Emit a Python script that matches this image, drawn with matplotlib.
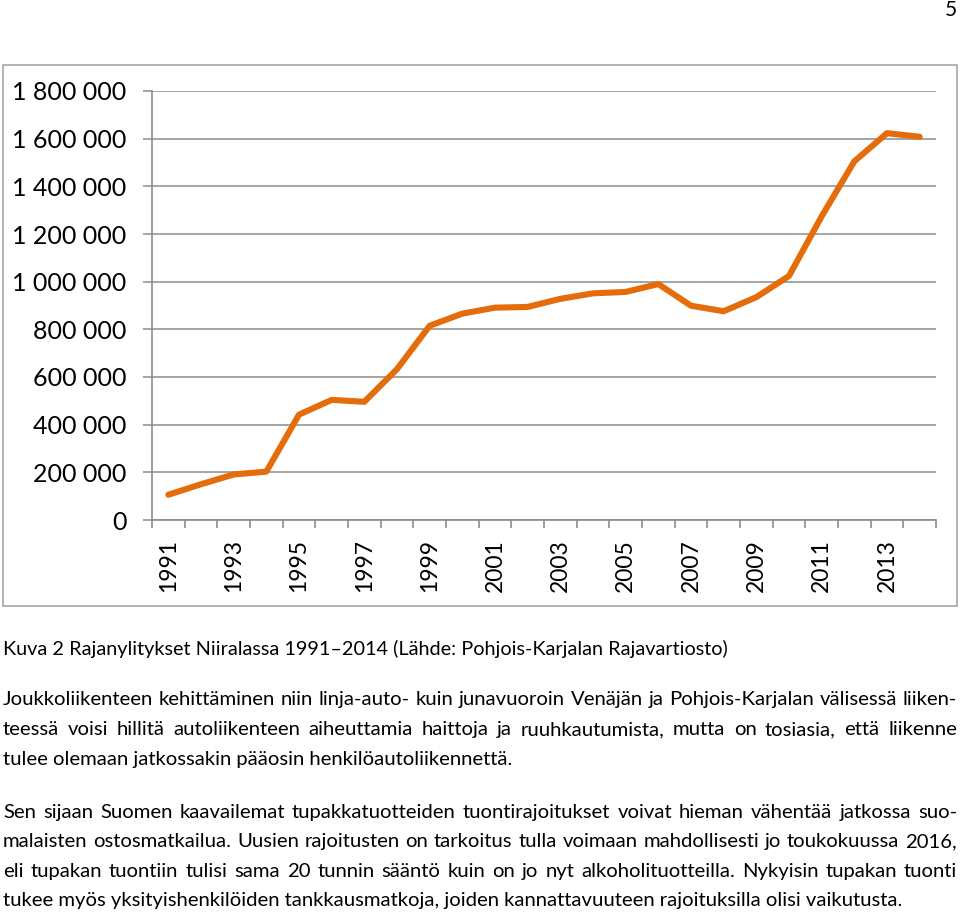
import matplotlib
matplotlib.use("Agg")
from matplotlib import pyplot as plt
from matplotlib.patches import Rectangle
from matplotlib.ticker import FuncFormatter

years = [str(y) for y in range(1991, 2015)]
crossings = [106000, 150000, 191000, 203000, 442000, 504000, 496000, 633000,
             815000, 866000, 891000, 894000, 928000, 951000, 957000, 990000,
             899000, 876000, 935000, 1024000, 1274000, 1505000, 1623000, 1608000]

caption = "Kuva 2 Rajanylitykset Niiralassa 1991–2014 (Lähde: Pohjois-Karjalan Rajavartiosto)"
para1 = [
    "Joukkoliikenteen kehittäminen niin linja-auto- kuin junavuoroin Venäjän ja Pohjois-Karjalan välisessä liiken-",
    "teessä voisi hillitä autoliikenteen aiheuttamia haittoja ja ruuhkautumista, mutta on tosiasia, että liikenne",
    "tulee olemaan jatkossakin pääosin henkilöautoliikennettä.",
]
para2 = [
    "Sen sijaan Suomen kaavailemat tupakkatuotteiden tuontirajoitukset voivat hieman vähentää jatkossa suo-",
    "malaisten ostosmatkailua. Uusien rajoitusten on tarkoitus tulla voimaan mahdollisesti jo toukokuussa 2016,",
    "eli tupakan tuontiin tulisi sama 20 tunnin sääntö kuin on jo nyt alkoholituotteilla. Nykyisin tupakan tuonti",
    "tukee myös yksityishenkilöiden tankkausmatkoja, joiden kannattavuuteen rajoituksilla olisi vaikutusta.",
]

W, H = 960, 914
FONT = "Lato"
plt.rcParams["font.family"] = [FONT, "DejaVu Sans"]

fig = plt.figure(figsize=(W / 100, H / 100), dpi=100)
renderer = fig.canvas.get_renderer()

# chart frame
fig.patches.append(Rectangle((3 / W, 1 - 606 / H), 954 / W, 541 / H, transform=fig.transFigure,
                             facecolor="none", edgecolor="#a6a6a6", lw=1.2, zorder=-1))

ax = fig.add_axes([152 / W, 1 - 520 / H, 784 / W, 429 / H])
ax.set_facecolor("none")
x = list(range(len(years)))
ax.plot(x, crossings, color="#e46c0a", lw=4.4, solid_capstyle="round", solid_joinstyle="round", zorder=3)

ax.set_xlim(-0.5, len(years) - 0.5)
ax.set_ylim(0, 1800000)
ax.set_yticks(range(0, 1800001, 200000))
ax.yaxis.set_major_formatter(FuncFormatter(lambda v, p: f"{int(v):,}".replace(",", " ")))
ax.grid(axis="y", color="#8c8c8c", lw=1.1)
ax.set_axisbelow(True)

ax.set_xticks(x[::2])
ax.set_xticklabels(years[::2], rotation=90)
ax.set_xticks([i - 0.5 for i in range(len(years) + 1)], minor=True)
ax.tick_params(axis="x", which="major", length=0, pad=14, labelsize=16.5)
ax.tick_params(axis="x", which="minor", length=6, width=1.2, color="#8c8c8c")
ax.tick_params(axis="y", length=6.5, width=1.1, color="#8c8c8c", pad=12, labelsize=18)

for side in ("top", "right"):
    ax.spines[side].set_visible(False)
for side in ("left", "bottom"):
    ax.spines[side].set_color("#8c8c8c")
    ax.spines[side].set_linewidth(1.2)

# page number
fig.text(957 / W, 1 - 16 / H, "5", ha="right", va="baseline", fontsize=15)

L, R = 3, 957
BODY = 14.6


def put_line(text, y, justify, size=BODY):
    if not justify:
        fig.text(L / W, 1 - y / H, text, ha="left", va="baseline", fontsize=size)
        return
    words = text.split(" ")
    arts = [fig.text(0, 1 - y / H, w, ha="left", va="baseline", fontsize=size) for w in words]
    widths = [a.get_window_extent(renderer).width for a in arts]
    gap = (R - L - sum(widths)) / (len(words) - 1)
    pos = L
    for a, w in zip(arts, widths):
        a.set_x(pos / W)
        pos += w + gap


put_line(caption, 655, False, size=14.3)
for i, (line, y) in enumerate(zip(para1, [705, 735, 765])):
    put_line(line, y, i < len(para1) - 1)
for i, (line, y) in enumerate(zip(para2, [818, 847, 877, 906])):
    put_line(line, y, i < len(para2) - 1)

fig.savefig("out.png", dpi=100)
